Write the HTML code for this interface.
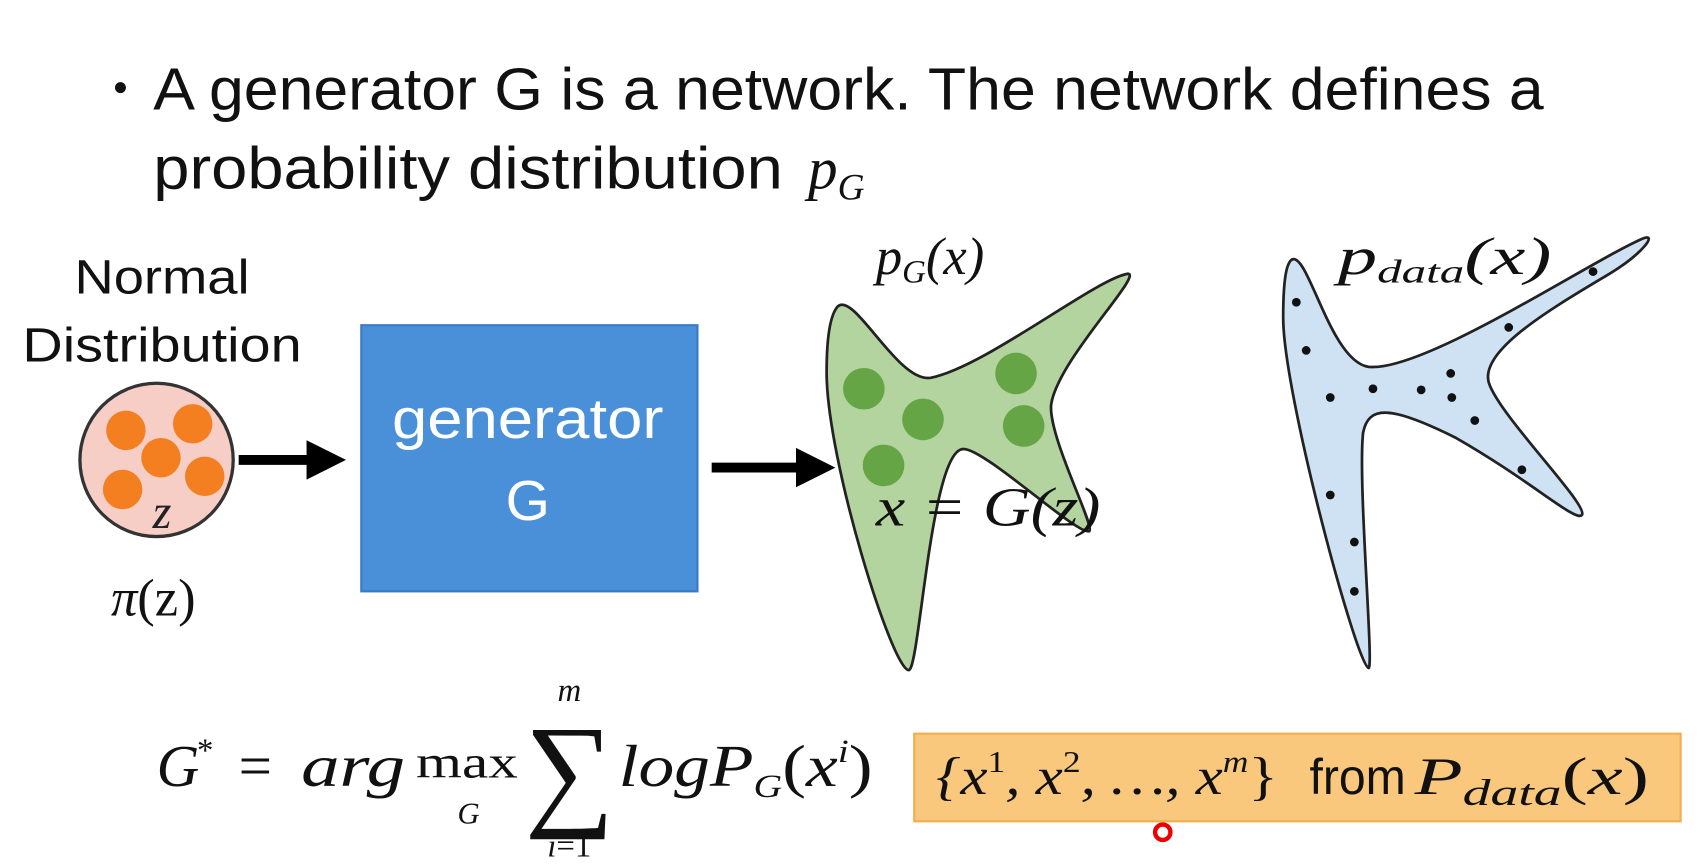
<!DOCTYPE html>
<html><head><meta charset="utf-8"><style>
html,body{margin:0;padding:0;background:#fff;}
svg{display:block;}
.s{font-family:"Liberation Sans",sans-serif;}
.m{font-family:"Liberation Serif",serif;font-style:italic;}
</style></head><body>
<svg width="1708" height="864" viewBox="0 0 1560 789" preserveAspectRatio="none">
<defs>
<marker id="ah" markerWidth="4" markerHeight="4" refX="2" refY="2" orient="auto"><path d="M0,0 L4,2 L0,4 z" fill="#000"/></marker>
</defs>
<g>
<circle cx="110" cy="80" r="5" fill="#111"/>
<text class="s" x="140" y="100" font-size="54" fill="#111" textLength="1270" lengthAdjust="spacingAndGlyphs">A generator G is a network. The network defines a</text>
<text class="s" x="140" y="172" font-size="54" fill="#111" textLength="575" lengthAdjust="spacingAndGlyphs">probability distribution</text>
<text class="m" x="738" y="172" font-size="54" fill="#111">p<tspan font-size="34" dy="10">G</tspan></text>
</g>
<text class="s" x="148" y="268" font-size="44" text-anchor="middle" fill="#111" textLength="160" lengthAdjust="spacingAndGlyphs">Normal</text>
<text class="s" x="148" y="330" font-size="44" text-anchor="middle" fill="#111" textLength="255" lengthAdjust="spacingAndGlyphs">Distribution</text>
<g>
<circle cx="143" cy="420" r="70" fill="#f6cec6" stroke="#333" stroke-width="3"/>
<circle cx="115" cy="393" r="18" fill="#f47f20"/>
<circle cx="176" cy="387" r="18" fill="#f47f20"/>
<circle cx="147" cy="418" r="18" fill="#f47f20"/>
<circle cx="112" cy="447" r="18" fill="#f47f20"/>
<circle cx="187" cy="435" r="18" fill="#f47f20"/>
<text class="m" x="148" y="482" font-size="44" text-anchor="middle" fill="#222">z</text>
</g>
<text x="140" y="562" font-size="48" text-anchor="middle" font-family="Liberation Serif" fill="#111"><tspan font-style="italic">π</tspan>(z)</text>
<line x1="218" y1="420" x2="298" y2="420" stroke="#000" stroke-width="9" marker-end="url(#ah)"/>
<g>
<rect x="330" y="297" width="307" height="243" fill="#4a90d9" stroke="#3a7cc4" stroke-width="2"/>
<text class="s" x="482" y="400" font-size="52" text-anchor="middle" fill="#fff" textLength="248" lengthAdjust="spacingAndGlyphs">generator</text>
<text class="s" x="482" y="475" font-size="52" text-anchor="middle" fill="#fff">G</text>
</g>
<line x1="650" y1="427" x2="745" y2="427" stroke="#000" stroke-width="9" marker-end="url(#ah)"/>
<g>
<path d="M765,280 C780,265 820,350 850,345 C900,335 1000,255 1030,250 C1045,250 965,330 960,370 C958,400 1000,480 995,485 C985,490 900,410 880,410 C850,410 840,612 830,612 C815,612 755,420 755,340 C755,310 758,288 765,280 Z" fill="#b3d39f" stroke="#222" stroke-width="2.5"/>
<circle cx="789" cy="355" r="19" fill="#65a545"/>
<circle cx="843" cy="383" r="19" fill="#65a545"/>
<circle cx="928" cy="341" r="19" fill="#65a545"/>
<circle cx="935" cy="389" r="19" fill="#65a545"/>
<circle cx="807" cy="425" r="19" fill="#65a545"/>
</g>
<text class="m" x="800" y="250" font-size="48" fill="#111">p<tspan font-size="30" dy="8">G</tspan><tspan dy="-8">(x)</tspan></text>
<text class="m" x="800" y="480" font-size="50" fill="#111" textLength="205" lengthAdjust="spacingAndGlyphs">x = G(z)</text>
<g>
<path d="M1180,237 C1195,230 1215,330 1250,335 C1300,340 1450,240 1500,218 C1515,212 1500,232 1470,250 C1420,280 1350,320 1360,350 C1370,380 1450,460 1445,470 C1440,478 1400,440 1330,400 C1270,370 1250,370 1245,395 C1240,440 1255,610 1250,610 C1240,610 1172,360 1172,290 C1172,255 1175,240 1180,237 Z" fill="#cfe2f3" stroke="#222" stroke-width="2.5"/>
<g fill="#111">
<circle cx="1184" cy="276" r="4"/><circle cx="1193" cy="320" r="4"/><circle cx="1215" cy="363" r="4"/>
<circle cx="1254" cy="355" r="4"/><circle cx="1298" cy="356" r="4"/><circle cx="1325" cy="341" r="4"/>
<circle cx="1326" cy="363" r="4"/><circle cx="1347" cy="384" r="4"/><circle cx="1378" cy="299" r="4"/>
<circle cx="1390" cy="429" r="4"/><circle cx="1455" cy="248" r="4"/><circle cx="1215" cy="452" r="4"/>
<circle cx="1237" cy="495" r="4"/><circle cx="1237" cy="540" r="4"/>
</g>
</g>
<text class="m" x="1222" y="250" font-size="48" fill="#111" textLength="195" lengthAdjust="spacingAndGlyphs">p<tspan font-size="30" dy="8">data</tspan><tspan dy="-8">(x)</tspan></text>
<g font-family="Liberation Serif" fill="#111">
<text x="143" y="718" font-size="54" font-style="italic">G</text>
<text x="180" y="695" font-size="30">*</text>
<text x="218" y="718" font-size="54">=</text>
<text x="275" y="718" font-size="54" font-style="italic" textLength="95" lengthAdjust="spacingAndGlyphs">arg</text>
<text x="380" y="710" font-size="42" textLength="93" lengthAdjust="spacingAndGlyphs">max</text>
<text x="428" y="752" font-size="28" font-style="italic" text-anchor="middle">G</text>
<text x="520" y="742" font-size="115" text-anchor="middle">∑</text>
<text x="520" y="640" font-size="30" font-style="italic" text-anchor="middle">m</text>
<text x="520" y="782" font-size="30" text-anchor="middle"><tspan font-style="italic">i</tspan>=1</text>
<text x="565" y="718" font-size="54" font-style="italic" textLength="232" lengthAdjust="spacingAndGlyphs">logP<tspan font-size="30" dy="10">G</tspan><tspan dy="-10" font-style="normal">(</tspan>x<tspan font-size="30" dy="-22">i</tspan><tspan dy="22" font-style="normal">)</tspan></text>
</g>
<g>
<rect x="835" y="670" width="700" height="80" fill="#f9c87c" stroke="#f0b050" stroke-width="2"/>
<text x="855" y="725" font-size="48" fill="#111" font-family="Liberation Serif" textLength="312" lengthAdjust="spacingAndGlyphs"><tspan font-style="italic">{x</tspan><tspan font-size="28" dy="-20">1</tspan><tspan dy="20" font-style="italic">, x</tspan><tspan font-size="28" dy="-20">2</tspan><tspan dy="20" font-style="italic">, …, x</tspan><tspan font-size="28" dy="-20" font-style="italic">m</tspan><tspan dy="20">}</tspan></text>
<text class="s" x="1196" y="725" font-size="46" fill="#111" textLength="88" lengthAdjust="spacingAndGlyphs">from</text>
<text x="1292" y="725" font-size="48" fill="#111" font-family="Liberation Serif" textLength="214" lengthAdjust="spacingAndGlyphs"><tspan font-style="italic">P</tspan><tspan font-size="34" dy="10" font-style="italic">data</tspan><tspan dy="-10">(</tspan><tspan font-style="italic">x</tspan>)</text>
</g>
<circle cx="1062" cy="760" r="7" fill="#fff" stroke="#e00" stroke-width="4"/>
</svg>
</body></html>
